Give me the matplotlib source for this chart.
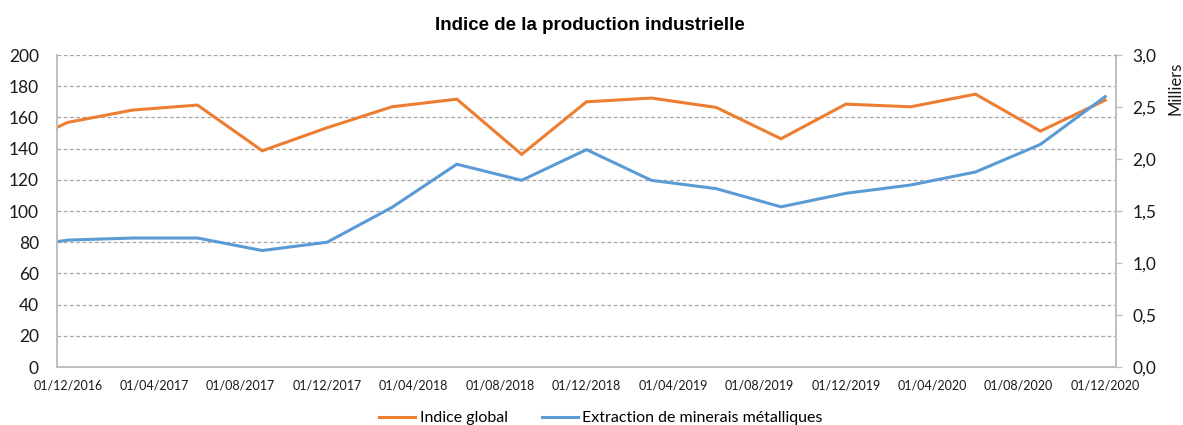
import numpy as np
import matplotlib
matplotlib.use("Agg")
import matplotlib.pyplot as plt
from matplotlib.ticker import FuncFormatter

plt.rcParams['font.family'] = ['Lato', 'DejaVu Sans']

# position des points (mois depuis le 01/12/2016), donnees trimestrielles
x_mois = [-0.5, 0, 3, 6, 9, 12, 15, 18, 21, 24, 27, 30, 33, 36, 39, 42, 45, 48]
# indice global (axe gauche)
indice_global = [153.6, 156.8, 164.7, 167.9, 138.6, 153.4, 166.8, 171.7, 136.3,
                 170.0, 172.4, 166.4, 146.3, 168.5, 166.8, 174.9, 151.2, 171.0]
# extraction de minerais metalliques (axe droit, milliers)
extraction = [1.205, 1.22, 1.24, 1.24, 1.12, 1.20, 1.535, 1.95, 1.795, 2.09,
              1.795, 1.715, 1.54, 1.67, 1.75, 1.875, 2.14, 2.60]
dates_lbl = ['01/12/2016', '01/04/2017', '01/08/2017', '01/12/2017',
             '01/04/2018', '01/08/2018', '01/12/2018', '01/04/2019',
             '01/08/2019', '01/12/2019', '01/04/2020', '01/08/2020',
             '01/12/2020']

orange = '#ED7D31'
bleu = '#5B9BD5'
gris = '#BFBFBF'
txt = '#1a1a1a'

fig = plt.figure(figsize=(11.83, 4.25), dpi=100)
ax = fig.add_axes([57/1183, 1-367/425, (1116-57)/1183, (367-55)/425])
ax2 = ax.twinx()

l1, = ax.plot(x_mois, indice_global, color=orange, lw=2.2, label='Indice global',
              solid_joinstyle='miter', zorder=3)
l2, = ax2.plot(x_mois, extraction, color=bleu, lw=2.2,
               label='Extraction de minerais métalliques', solid_joinstyle='miter')

ax.set_xlim(-0.5, 48.5)
ax.set_ylim(0, 200)
ax.set_yticks(np.arange(0, 201, 20))
ax2.set_ylim(0, 3)
ax2.set_yticks(np.arange(0, 3.01, 0.5))
ax2.yaxis.set_major_formatter(FuncFormatter(lambda v, p: f'{v:.1f}'.replace('.', ',')))

ax.grid(axis='y', color='#A6A6A6', ls=(0, (3, 2)), lw=0.9)
ax.set_axisbelow(True)

ax.set_xticks(np.arange(len(dates_lbl)) * 4)
ax.set_xticklabels(dates_lbl)
ax.tick_params(axis='x', length=0, pad=9, labelsize=9, labelcolor=txt)
ax.tick_params(axis='y', length=0, pad=13, labelsize=12.5, labelcolor=txt)
ax2.tick_params(axis='y', length=4, width=1, color=gris, pad=8, labelsize=12.5,
                labelcolor=txt)

for a in (ax, ax2):
    a.spines['top'].set_visible(False)
    for s in ('left', 'bottom', 'right'):
        a.spines[s].set_color(gris)
        a.spines[s].set_linewidth(1.2)

fig.text(1176/1183, 1-88/425, 'Milliers', rotation=90, ha='center', va='center',
         fontsize=12, color=txt)
fig.text(590/1183, 1-25/425, 'Indice de la production industrielle',
         ha='center', va='center', fontsize=13.5, fontweight='bold',
         family=['Liberation Sans', 'DejaVu Sans'], color='black')

fig.legend(handles=[l1, l2], loc='center', bbox_to_anchor=(601/1183, 1-418/425),
           ncol=2, frameon=False, fontsize=11.5, handlelength=2.25,
           columnspacing=2.1, handletextpad=0.3)

fig.savefig('out.png', dpi=100)
